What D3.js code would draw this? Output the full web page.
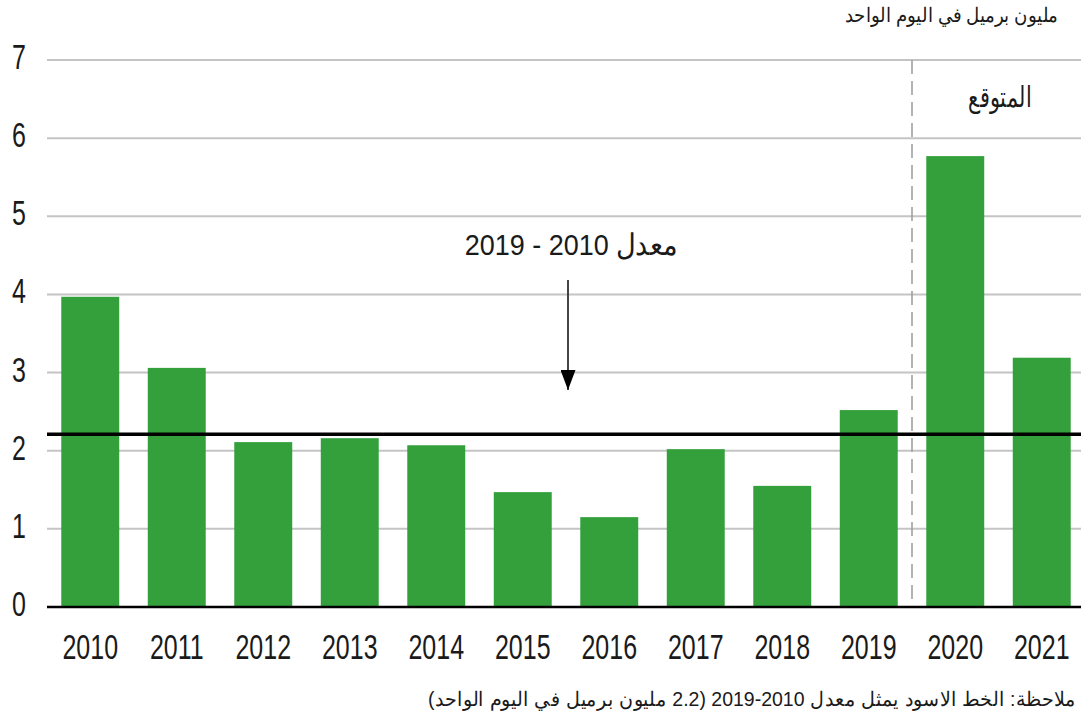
<!DOCTYPE html>
<html>
<head>
<meta charset="utf-8">
<script src="https://cdn.jsdelivr.net/npm/d3@7"></script>
<style>
  body { margin: 0; background: #fff; }
  svg { display: block; font-family: "Liberation Sans", Arial, sans-serif; }
</style>
</head>
<body>
<svg id="chart" width="1081" height="717"></svg>
<script>
// chart data
const years = ["2010", "2011", "2012", "2013", "2014", "2015", "2016", "2017", "2018", "2019", "2020", "2021"];
const values = [3.97, 3.06, 2.11, 2.16, 2.07, 1.47, 1.15, 2.02, 1.55, 2.52, 5.77, 3.19];
const yTicks = [0, 1, 2, 3, 4, 5, 6, 7];
const average = 2.21;
const forecastStart = "2020";

const unitLabel = "مليون برميل في اليوم الواحد";
const forecastLabel = "المتوقع";
const averageLabel = "معدل 2010 - 2019";
const noteLabel = "ملاحظة: الخط الاسود يمثل معدل 2010-2019 (2.2 مليون برميل في اليوم الواحد)";

const svg = d3.select("#chart");
const left = 47, right = 1081;
const stretch = 1.4; // source text looks stretched vertically

const x = d3.scaleBand()
    .domain(years)
    .range([47, 1085])
    .paddingInner(0.33)
    .paddingOuter(0.165);

const y = d3.scaleLinear()
    .domain([0, 7])
    .range([607, 60]);

// grid lines
svg.append("g")
    .selectAll("line")
    .data(yTicks.filter(d => d > 0))
    .join("line")
    .attr("x1", left).attr("x2", right)
    .attr("y1", d => y(d)).attr("y2", d => y(d))
    .attr("stroke", "#c4c4c4")
    .attr("stroke-width", 2);

// y tick labels
svg.append("g")
    .selectAll("text")
    .data(yTicks)
    .join("text")
    .attr("transform", d => `translate(19,${y(d) + 9}) scale(1,${stretch})`)
    .attr("text-anchor", "middle")
    .attr("font-size", 25)
    .attr("fill", "#1a1a1a")
    .text(d => d);

// bars
svg.append("g")
    .selectAll("rect")
    .data(years.map((yr, i) => ({ yr, v: values[i] })))
    .join("rect")
    .attr("x", d => x(d.yr))
    .attr("width", x.bandwidth())
    .attr("y", d => y(d.v))
    .attr("height", d => y(0) - y(d.v))
    .attr("fill", "#33a03c");

// forecast divider
const divX = x(forecastStart) - x.step() * x.paddingInner() / 2;
svg.append("line")
    .attr("x1", divX).attr("x2", divX)
    .attr("y1", y(7)).attr("y2", y(0))
    .attr("stroke", "#9a9a9a")
    .attr("stroke-width", 1.5)
    .attr("stroke-dasharray", "14,7");

// average line
svg.append("line")
    .attr("x1", left).attr("x2", right)
    .attr("y1", y(average)).attr("y2", y(average))
    .attr("stroke", "#000")
    .attr("stroke-width", 3.5);

// baseline
svg.append("line")
    .attr("x1", left).attr("x2", right)
    .attr("y1", y(0)).attr("y2", y(0))
    .attr("stroke", "#000")
    .attr("stroke-width", 2.5);

// x labels
svg.append("g")
    .selectAll("text")
    .data(years)
    .join("text")
    .attr("transform", d => `translate(${x(d) + x.bandwidth() / 2},659) scale(1,${stretch})`)
    .attr("text-anchor", "middle")
    .attr("font-size", 25)
    .attr("fill", "#1a1a1a")
    .text(d => d);

// arrow to average line
svg.append("defs").append("marker")
    .attr("id", "head")
    .attr("viewBox", "0 0 10 10")
    .attr("preserveAspectRatio", "none")
    .attr("refX", 10).attr("refY", 5)
    .attr("markerWidth", 20).attr("markerHeight", 15)
    .attr("markerUnits", "userSpaceOnUse")
    .attr("orient", "auto")
    .append("path")
    .attr("d", "M0,0 L10,5 L0,10 Z")
    .attr("fill", "#000");

svg.append("line")
    .attr("x1", 568).attr("x2", 568)
    .attr("y1", 280).attr("y2", 390)
    .attr("stroke", "#444")
    .attr("stroke-width", 2)
    .attr("marker-end", "url(#head)");

// texts
function rtlText(tx, ty, size, str, anchor, sy) {
    svg.append("text")
        .attr("transform", `translate(${tx},${ty}) scale(1,${sy})`)
        .attr("direction", "rtl")
        .attr("text-anchor", anchor)
        .attr("font-size", size)
        .attr("fill", "#1a1a1a")
        .text(str);
}

rtlText(571, 255, 27, averageLabel, "middle", 1.1);
rtlText(1000, 107, 21, forecastLabel, "middle", 1.4);
rtlText(1058, 22, 18, unitLabel, "start", 1.1);
rtlText(1076, 706, 19.5, noteLabel, "start", 1.05);
</script>
</body>
</html>
